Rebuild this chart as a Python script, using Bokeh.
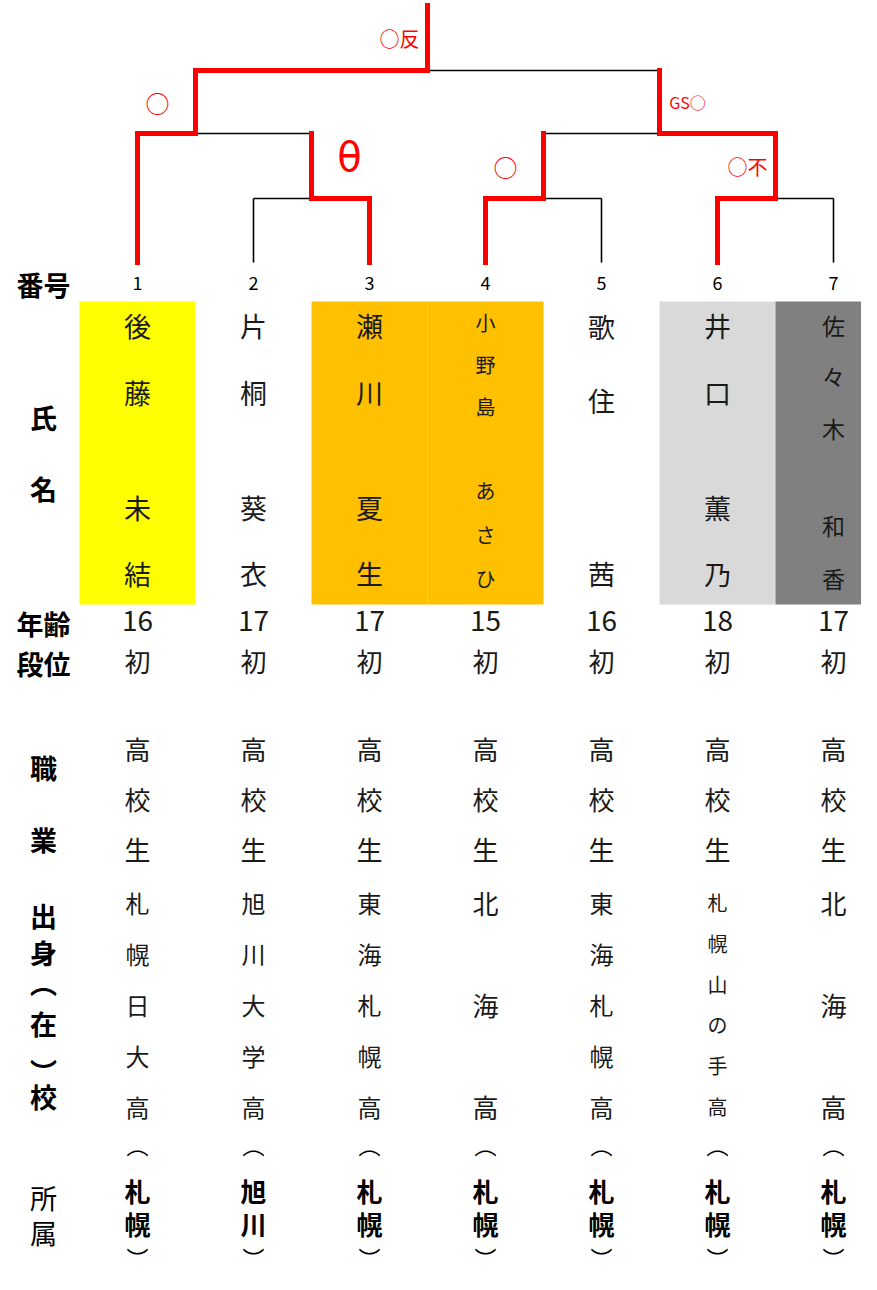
import numpy as np
from bokeh.plotting import figure
from bokeh.models import Range1d, ColumnDataSource
from bokeh.core.properties import value
from bokeh.embed import file_html
from bokeh.resources import INLINE

# ---------------- data ----------------
player_numbers = [1, 2, 3, 4, 5, 6, 7]
surnames = ["後藤", "片桐", "瀬川", "小野島", "歌住", "井口", "佐々木"]
given_names = ["未結", "葵衣", "夏生", "あさひ", "茜", "薫乃", "和香"]
ages = [16, 17, 17, 15, 16, 18, 17]
ranks = ["初", "初", "初", "初", "初", "初", "初"]
jobs = ["高校生", "高校生", "高校生", "高校生", "高校生", "高校生", "高校生"]
schools = ["札幌日大高", "旭川大学高", "東海札幌高", "北海高", "東海札幌高", "札幌山の手高", "北海高"]
affiliations = ["札幌", "旭川", "札幌", "札幌", "札幌", "札幌", "札幌"]
highlight_colors = ["#FFFF00", None, "#FFC000", "#FFC000", None, "#D9D9D9", "#808080"]

# bracket: a leaf is a player number, a match is [left, right]
bracket = [[1, [2, 3]], [[4, 5], [6, 7]]]
match_winners = {(2, 3): 3, (4, 5): 4, (6, 7): 6,
                 (1, 2, 3): 1, (4, 5, 6, 7): 6, (1, 2, 3, 4, 5, 6, 7): 1}
match_marks = {(2, 3): "θ", (4, 5): "○", (6, 7): "○不",
               (1, 2, 3): "○", (4, 5, 6, 7): "GS○", (1, 2, 3, 4, 5, 6, 7): "○反"}

row_headers = [("番号", 284, True), ("氏", 417, True), ("名", 488, True),
               ("年齢", 623, True), ("段位", 663, True), ("職", 767, True), ("業", 839, True),
               ("出", 915, True), ("身", 952, True), ("︵", 982, True), ("在", 1023, True),
               ("︶", 1071, True), ("校", 1096, True), ("所", 1197, False), ("属", 1232, False)]

# ---------------- layout / style ----------------
FONT = value("Noto Sans CJK JP")
COL1_PX, COL_W = 137, 116
PAGE_X0, PAGE_Y0 = 0, 0
W, H = 861, 1274
RED, BLACK, TXT = "#FF0000", "#000000", "#1a1a1a"
LEVEL_Y = [70, 133, 198]
LEAF_Y, TOP_Y = 262, 5
BOX_TOP, BOX_BOTTOM = 301, 604

name_layout = [
    dict(size=27, sur=[325, 392], giv=[507, 573]),
    dict(size=27, sur=[325, 392], giv=[507, 573]),
    dict(size=27, sur=[325, 392], giv=[507, 573]),
    dict(size=20, sur=[322, 364, 406], giv=[490, 534, 578]),
    dict(size=27, sur=[326, 400], giv=[573]),
    dict(size=27, sur=[325, 392], giv=[507, 573]),
    dict(size=23, sur=[324, 375, 427], giv=[524, 577]),
]
school_size = {3: 26, 5: 24, 6: 20}
mark_sizes = {1: 24, 2: 20, 3: 16}
mark_dy = {"θ": -9}


def px2col(px):
    return 1 + (px - COL1_PX) / COL_W


p = figure(width=W, height=H,
           x_range=Range1d(px2col(PAGE_X0), px2col(PAGE_X0 + W)),
           y_range=Range1d(PAGE_Y0 + H, PAGE_Y0),
           output_backend="svg", toolbar_location=None,
           x_axis_location=None, y_axis_location=None, min_border=0)
p.grid.visible = False
p.outline_line_color = None
p.background_fill_color = "white"


def add_text(xs, ys, texts, size, color=TXT, bold=False, align="center", font=FONT):
    src = ColumnDataSource(dict(x=list(xs), y=list(ys), t=list(texts)))
    p.text(x="x", y="y", text="t", source=src, text_font=font,
           text_font_size=f"{size}px", text_color=color,
           text_font_style="bold" if bold else "normal",
           text_align=align, text_baseline="middle")


# highlight boxes
bx = [n for n, c in zip(player_numbers, highlight_colors) if c]
bc = [c for c in highlight_colors if c]
p.quad(left=[n - 0.5 for n in bx], right=[n + 0.5 for n in bx],
       top=[BOX_TOP] * len(bx), bottom=[BOX_BOTTOM] * len(bx),
       fill_color=bc, line_color=None)

# bracket
black_segs, red_segs, mark_items = [], [], []


def walk(node, depth):
    if isinstance(node, int):
        return [node], float(node), LEAF_Y, False
    L = walk(node[0], depth + 1)
    R = walk(node[1], depth + 1)
    y = LEVEL_Y[depth]
    players = tuple(sorted(L[0] + R[0]))
    jx = (max(L[0]) + min(R[0])) / 2
    w = match_winners[players]
    for cp, cx, cy, cm in (L, R):
        seg = (cx, cy, cx, y)
        black_segs.append(seg)
        if cm or w in cp:
            red_segs.append(seg)
        if w in cp:
            red_segs.append((cx, y, jx, y))
    black_segs.append((L[1], y, R[1], y))
    parent_y = LEVEL_Y[depth - 1] if depth > 0 else TOP_Y
    mark = match_marks[players]
    side = -1 if w in L[0] else 1
    off = (38 if len(mark) == 1 else 28) / COL_W
    mark_items.append((jx + side * off, (y + parent_y) / 2 + mark_dy.get(mark, 0), mark))
    if depth == 0:
        red_segs.append((jx, y, jx, TOP_Y))
        black_segs.append((jx, y, jx, TOP_Y))
    return list(players), jx, y, True


walk(bracket, 0)

bs = np.array(black_segs)
p.segment(x0=bs[:, 0], y0=bs[:, 1], x1=bs[:, 2], y1=bs[:, 3],
          line_color=BLACK, line_width=1.6)
rs = np.array(red_segs)
p.segment(x0=rs[:, 0], y0=rs[:, 1], x1=rs[:, 2], y1=rs[:, 3],
          line_color=RED, line_width=5, line_cap="square")

for mx, my, mt in mark_items:
    if mt == "θ":
        add_text([mx], [my], [mt], 40, color=RED, font=value("DejaVu Sans"))
    else:
        add_text([mx], [my], [mt], mark_sizes[len(mt)], color=RED)

# player numbers
add_text(player_numbers, [282] * 7, [str(n) for n in player_numbers], 18, color=BLACK)

# row headers
hx = px2col(43)
for t, y, b in row_headers:
    add_text([hx], [y], [t], 27, color=BLACK, bold=b)

# names
for n, sur, giv, lay in zip(player_numbers, surnames, given_names, name_layout):
    chars = list(sur) + list(giv)
    ys = lay["sur"] + lay["giv"]
    add_text([n] * len(chars), ys, chars, lay["size"])

# ages and ranks
add_text(player_numbers, [620] * 7, [str(a) for a in ages], 28)
add_text(player_numbers, [660] * 7, ranks, 26)

# jobs
for n, j in zip(player_numbers, jobs):
    add_text([n] * len(j), [748, 798, 848][:len(j)], list(j), 26)

# schools
for n, s in zip(player_numbers, schools):
    ys = np.linspace(902, 1106, len(s))
    add_text([n] * len(s), ys, list(s), school_size[len(s)])

# affiliations
add_text(player_numbers, [1143] * 7, ["︵"] * 7, 22, color=BLACK)
for n, a in zip(player_numbers, affiliations):
    add_text([n, n], [1190, 1223], list(a), 26, color=BLACK, bold=True)
add_text(player_numbers, [1256] * 7, ["︶"] * 7, 22, color=BLACK)

open("out.html", "w").write(file_html(p, INLINE))
